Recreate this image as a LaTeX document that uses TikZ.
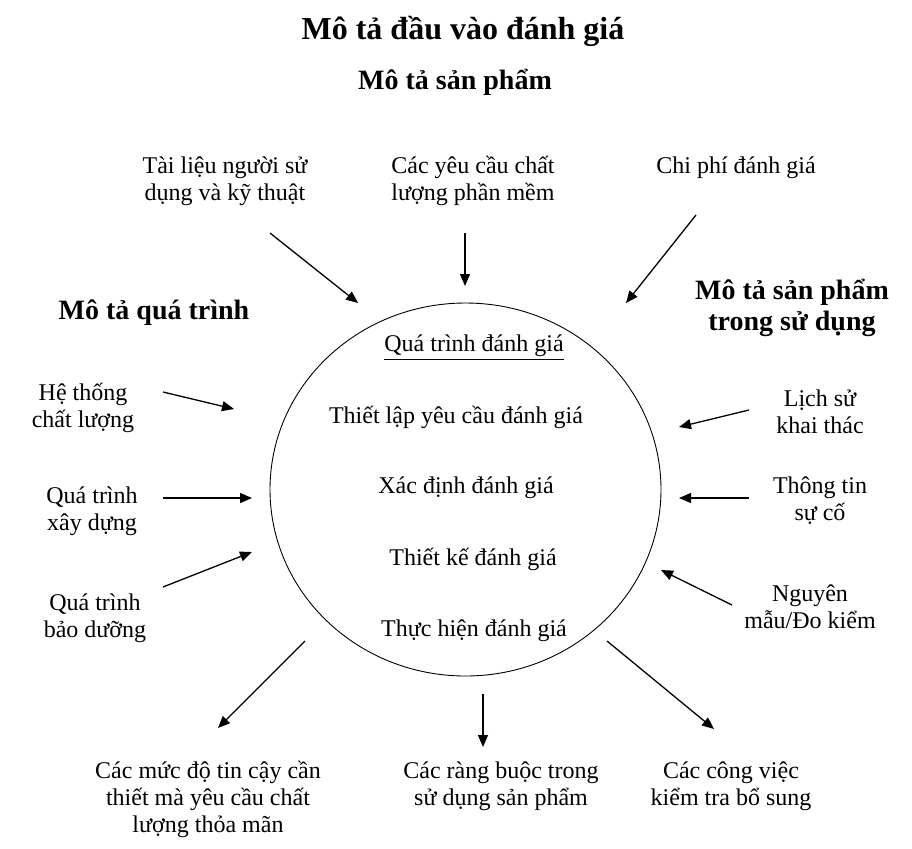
\documentclass[tikz,border=0pt]{standalone}
\usepackage{fontspec}
\setmainfont{Liberation Serif}
\usetikzlibrary{arrows.meta}

\begin{document}
\begin{tikzpicture}[x=0.5pt,y=-0.5pt,
	txt/.style={align=center,yshift=-1.5pt,font=\fontsize{12}{13.5}\selectfont},
	head/.style={align=center,yshift=-1.5pt,font=\fontsize{14}{15.5}\selectfont\bfseries},
	arr/.style={-{Triangle[length=6pt,width=5pt]},line width=0.65pt}]
			\useasboundingbox (0,0) rectangle (912,848);
			% headings
			\node (title) at (463,28) [head,font=\fontsize{16}{18}\selectfont\bfseries]{Mô tả đầu vào đánh giá};
			\node (prod) at (455,79) [head]{Mô tả sản phẩm};
			\node (proc) at (154,310) [head]{Mô tả quá trình};
			\node (use) at (792,305) [head]{Mô tả sản phẩm\\trong sử dụng};
			% centre
			\coordinate (O) at (465.5,489.5);
			\draw[line width=0.45pt] (O) ellipse [x radius=97.75pt,y radius=93.25pt];
			\node (eval) at (474,345) [txt]{\underline{Quá trình đánh giá}};
			\node (set) at (456,414) [txt]{Thiết lập yêu cầu đánh giá};
			\node (spec) at (466,485) [txt]{Xác định đánh giá};
			\node (des) at (473,556) [txt]{Thiết kế đánh giá};
			\node (exe) at (474,628) [txt]{Thực hiện đánh giá};
			% inputs
			\node (doc) at (225,178) [txt]{Tài liệu người sử\\dụng và kỹ thuật};
			\node (req) at (473,178) [txt]{Các yêu cầu chất\\lượng phần mềm};
			\node (cost) at (736,165) [txt]{Chi phí đánh giá};
			\node (qs) at (83,405) [txt]{Hệ thống\\chất lượng};
			\node (dev) at (92,508) [txt]{Quá trình\\xây dựng};
			\node (mnt) at (95,615) [txt]{Quá trình\\bảo dưỡng};
			\node (hist) at (820,409) [txt]{Lịch sử\\khai thác};
			\node (fail) at (820,498) [txt]{Thông tin\\sự cố};
			\node (proto) at (810,604) [txt]{Nguyên\\mẫu/Đo kiểm};
			% outputs
			\node (lvl) at (208,796) [txt]{Các mức độ tin cậy cần\\thiết mà yêu cầu chất\\lượng thỏa mãn};
			\node (con) at (501,783) [txt]{Các ràng buộc trong\\sử dụng sản phẩm};
			\node (add) at (731,783) [txt]{Các công việc\\kiểm tra bổ sung};
			% arrow ends
			\coordinate (doc1) at (270,233); \coordinate (doc2) at (358,303);
			\coordinate (req1) at (465,233); \coordinate (req2) at (465,286);
			\coordinate (cost1) at (696,215); \coordinate (cost2) at (626,303);
			\coordinate (qs1) at (163,392); \coordinate (qs2) at (234,409);
			\coordinate (dev1) at (163,498); \coordinate (dev2) at (252,498);
			\coordinate (mnt1) at (163,587); \coordinate (mnt2) at (252,552);
			\coordinate (hist1) at (749,410); \coordinate (hist2) at (679,427);
			\coordinate (fail1) at (749,498); \coordinate (fail2) at (679,498);
			\coordinate (proto1) at (732,605); \coordinate (proto2) at (661,570);
			\coordinate (lvl1) at (305,641); \coordinate (lvl2) at (218,728);
			\coordinate (con1) at (483,694); \coordinate (con2) at (483,747);
			\coordinate (add1) at (607,641); \coordinate (add2) at (714,729);
			\foreach \n in {doc,req,cost,qs,dev,mnt,hist,fail,proto,lvl,con,add}
				\draw[arr] (\n1)--(\n2);
		\end{tikzpicture}
\end{document}
